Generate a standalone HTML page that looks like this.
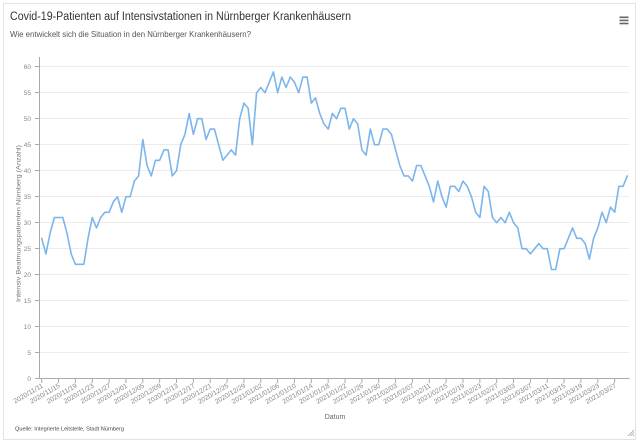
<!DOCTYPE html>
<html>
<head>
<meta charset="utf-8">
<style>
html,body{margin:0;padding:0;background:#fff;}
body{width:640px;height:442px;overflow:hidden;}
svg{display:block;font-family:"Liberation Sans",Arial,sans-serif;}
</style>
</head>
<body>
<svg width="640" height="442" viewBox="0 0 640 442" xmlns="http://www.w3.org/2000/svg">
  <rect x="0" y="0" width="640" height="442" fill="#fff"/>
  <rect x="3.5" y="3.5" width="632" height="436" fill="#fff" stroke="#e3e3e3" stroke-width="1"/>

  <!-- title -->
  <text x="10" y="20" font-size="11.5" fill="#333" textLength="341" lengthAdjust="spacingAndGlyphs">Covid-19-Patienten auf Intensivstationen in Nürnberger Krankenhäusern</text>
  <text x="10" y="37" font-size="8.3" fill="#555" textLength="241" lengthAdjust="spacingAndGlyphs">Wie entwickelt sich die Situation in den Nürnberger Krankenhäusern?</text>

  <!-- hamburger -->
  <g fill="#666">
    <rect x="619.5" y="16.5" width="9" height="1.6"/>
    <rect x="619.5" y="19.6" width="9" height="1.6"/>
    <rect x="619.5" y="22.7" width="9" height="1.6"/>
  </g>

  <!-- gridlines -->
  <g stroke="#ececec" stroke-width="1">
    <line x1="40" x2="629" y1="352.5" y2="352.5"/>
    <line x1="40" x2="629" y1="326.5" y2="326.5"/>
    <line x1="40" x2="629" y1="300.5" y2="300.5"/>
    <line x1="40" x2="629" y1="274.5" y2="274.5"/>
    <line x1="40" x2="629" y1="248.5" y2="248.5"/>
    <line x1="40" x2="629" y1="222.5" y2="222.5"/>
    <line x1="40" x2="629" y1="196.5" y2="196.5"/>
    <line x1="40" x2="629" y1="170.5" y2="170.5"/>
    <line x1="40" x2="629" y1="144.5" y2="144.5"/>
    <line x1="40" x2="629" y1="118.5" y2="118.5"/>
    <line x1="40" x2="629" y1="92.5" y2="92.5"/>
    <line x1="40" x2="629" y1="66.5" y2="66.5"/>
  </g>

  <!-- axes -->
  <line x1="39.5" x2="39.5" y1="57" y2="379" stroke="#aaa" stroke-width="1"/>
  <line x1="39.5" x2="629.5" y1="378.5" y2="378.5" stroke="#aaa" stroke-width="1"/>

  <!-- y ticks -->
  <g stroke="#aaa" stroke-width="1">
    <line x1="35" x2="39.5" y1="378.5" y2="378.5"/>
    <line x1="35" x2="39.5" y1="352.5" y2="352.5"/>
    <line x1="35" x2="39.5" y1="326.5" y2="326.5"/>
    <line x1="35" x2="39.5" y1="300.5" y2="300.5"/>
    <line x1="35" x2="39.5" y1="274.5" y2="274.5"/>
    <line x1="35" x2="39.5" y1="248.5" y2="248.5"/>
    <line x1="35" x2="39.5" y1="222.5" y2="222.5"/>
    <line x1="35" x2="39.5" y1="196.5" y2="196.5"/>
    <line x1="35" x2="39.5" y1="170.5" y2="170.5"/>
    <line x1="35" x2="39.5" y1="144.5" y2="144.5"/>
    <line x1="35" x2="39.5" y1="118.5" y2="118.5"/>
    <line x1="35" x2="39.5" y1="92.5" y2="92.5"/>
    <line x1="35" x2="39.5" y1="66.5" y2="66.5"/>
  </g>
  <g font-size="6.5" fill="#888" text-anchor="end">
    <text x="31" y="381">0</text>
    <text x="31" y="355">5</text>
    <text x="31" y="329">10</text>
    <text x="31" y="303">15</text>
    <text x="31" y="277">20</text>
    <text x="31" y="251">25</text>
    <text x="31" y="225">30</text>
    <text x="31" y="199">35</text>
    <text x="31" y="173">40</text>
    <text x="31" y="147">45</text>
    <text x="31" y="121">50</text>
    <text x="31" y="95">55</text>
    <text x="31" y="69">60</text>
  </g>

  <!-- y axis title -->
  <text transform="translate(20.5,223.5) rotate(-90)" text-anchor="middle" font-size="6.5" fill="#777" textLength="157" lengthAdjust="spacingAndGlyphs">Intensiv Beatmungspatienten Nürnberg (Anzahl)</text>

  <!-- x ticks -->
  <path stroke="#aaa" stroke-width="1" fill="none" d="
  M41.7 379v4 M58.55 379v4 M75.4 379v4 M92.26 379v4 M109.11 379v4 M125.96 379v4 M142.81 379v4 M159.66 379v4 M176.52 379v4 M193.37 379v4 M210.22 379v4 M227.07 379v4 M243.92 379v4 M260.78 379v4 M277.63 379v4 M294.48 379v4 M311.33 379v4 M328.18 379v4 M345.04 379v4 M361.89 379v4 M378.74 379v4 M395.59 379v4 M412.44 379v4 M429.3 379v4 M446.15 379v4 M463 379v4 M479.85 379v4 M496.7 379v4 M513.56 379v4 M530.41 379v4 M547.26 379v4 M564.11 379v4 M580.96 379v4 M597.82 379v4 M614.67 379v4"/>

  <!-- x labels -->
  <g font-size="6.8" fill="#888" text-anchor="end">
    <text transform="translate(43.7,387) rotate(-30)">2020/11/11</text>
    <text transform="translate(60.55,387) rotate(-30)">2020/11/15</text>
    <text transform="translate(77.4,387) rotate(-30)">2020/11/19</text>
    <text transform="translate(94.26,387) rotate(-30)">2020/11/23</text>
    <text transform="translate(111.11,387) rotate(-30)">2020/11/27</text>
    <text transform="translate(127.96,387) rotate(-30)">2020/12/01</text>
    <text transform="translate(144.81,387) rotate(-30)">2020/12/05</text>
    <text transform="translate(161.66,387) rotate(-30)">2020/12/09</text>
    <text transform="translate(178.52,387) rotate(-30)">2020/12/13</text>
    <text transform="translate(195.37,387) rotate(-30)">2020/12/17</text>
    <text transform="translate(212.22,387) rotate(-30)">2020/12/21</text>
    <text transform="translate(229.07,387) rotate(-30)">2020/12/25</text>
    <text transform="translate(245.92,387) rotate(-30)">2020/12/29</text>
    <text transform="translate(262.78,387) rotate(-30)">2021/01/02</text>
    <text transform="translate(279.63,387) rotate(-30)">2021/01/06</text>
    <text transform="translate(296.48,387) rotate(-30)">2021/01/10</text>
    <text transform="translate(313.33,387) rotate(-30)">2021/01/14</text>
    <text transform="translate(330.18,387) rotate(-30)">2021/01/18</text>
    <text transform="translate(347.04,387) rotate(-30)">2021/01/22</text>
    <text transform="translate(363.89,387) rotate(-30)">2021/01/26</text>
    <text transform="translate(380.74,387) rotate(-30)">2021/01/30</text>
    <text transform="translate(397.59,387) rotate(-30)">2021/02/03</text>
    <text transform="translate(414.44,387) rotate(-30)">2021/02/07</text>
    <text transform="translate(431.3,387) rotate(-30)">2021/02/11</text>
    <text transform="translate(448.15,387) rotate(-30)">2021/02/15</text>
    <text transform="translate(465,387) rotate(-30)">2021/02/19</text>
    <text transform="translate(481.85,387) rotate(-30)">2021/02/23</text>
    <text transform="translate(498.7,387) rotate(-30)">2021/02/27</text>
    <text transform="translate(515.56,387) rotate(-30)">2021/03/03</text>
    <text transform="translate(532.41,387) rotate(-30)">2021/03/07</text>
    <text transform="translate(549.26,387) rotate(-30)">2021/03/11</text>
    <text transform="translate(566.11,387) rotate(-30)">2021/03/15</text>
    <text transform="translate(582.96,387) rotate(-30)">2021/03/19</text>
    <text transform="translate(599.82,387) rotate(-30)">2021/03/23</text>
    <text transform="translate(616.67,387) rotate(-30)">2021/03/27</text>
  </g>

  <!-- x axis title -->
  <text x="335" y="419" text-anchor="middle" font-size="7" fill="#666">Datum</text>

  <!-- credits -->
  <text x="15" y="430.5" font-size="5.6" fill="#444" textLength="109" lengthAdjust="spacingAndGlyphs">Quelle: Integrierte Leitstelle, Stadt Nürnberg</text>

  <!-- resize handle -->
  <g stroke="#999" stroke-width="0.7">
    <line x1="628" y1="436" x2="634" y2="430"/>
    <line x1="630.5" y1="436" x2="634" y2="432.5"/>
    <line x1="633" y1="436" x2="634" y2="435"/>
  </g>

  <!-- data line -->
  <polyline transform="translate(41.7,378.7) scale(4.213,-5.2)" vector-effect="non-scaling-stroke" fill="none" stroke="#7cb5ec" stroke-width="1.6" stroke-linejoin="round" stroke-linecap="round"
  points="0,27 1,24 2,28 3,31 4,31 5,31 6,28 7,24 8,22 9,22 10,22 11,27 12,31 13,29 14,31 15,32 16,32 17,34 18,35 19,32 20,35 21,35 22,38 23,39 24,46 25,41 26,39 27,42 28,42 29,44 30,44 31,39 32,40 33,45 34,47 35,51 36,47 37,50 38,50 39,46 40,48 41,48 42,45 43,42 44,43 45,44 46,43 47,50 48,53 49,52 50,45 51,55 52,56 53,55 54,57 55,59 56,55 57,58 58,56 59,58 60,57 61,55 62,58 63,58 64,53 65,54 66,51 67,49 68,48 69,51 70,50 71,52 72,52 73,48 74,50 75,49 76,44 77,43 78,48 79,45 80,45 81,48 82,48 83,47 84,44 85,41 86,39 87,39 88,38 89,41 90,41 91,39 92,37 93,34 94,38 95,35 96,33 97,37 98,37 99,36 100,38 101,37 102,35 103,32 104,31 105,37 106,36 107,31 108,30 109,31 110,30 111,32 112,30 113,29 114,25 115,25 116,24 117,25 118,26 119,25 120,25 121,21 122,21 123,25 124,25 125,27 126,29 127,27 128,27 129,26 130,23 131,27 132,29 133,32 134,30 135,33 136,32 137,37 138,37 139,39"/>
</svg>
</body>
</html>
